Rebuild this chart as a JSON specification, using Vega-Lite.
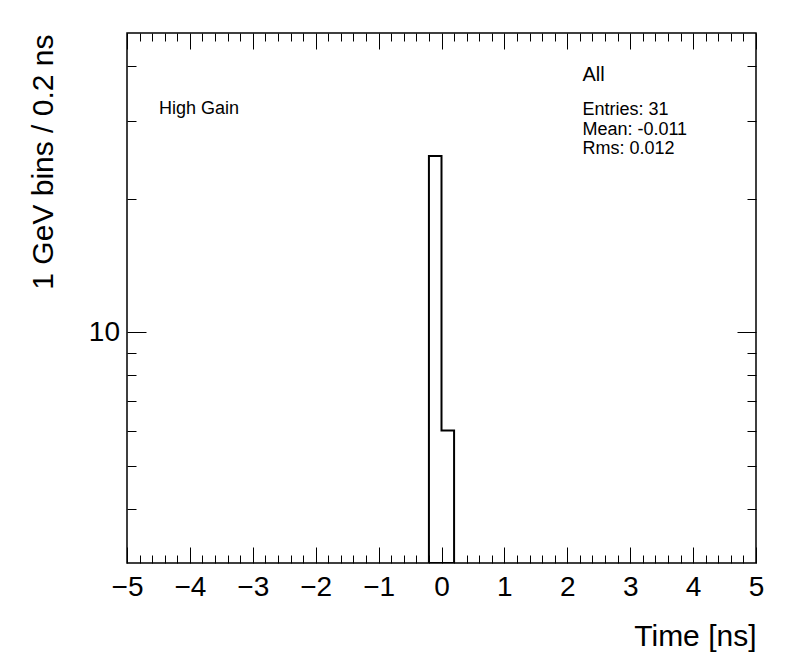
{
  "$schema": "https://vega.github.io/schema/vega-lite/v6.json",
  "width": 629,
  "height": 530,
  "autosize": {"type": "none"},
  "padding": {"left": 127, "top": 33, "right": 40, "bottom": 109},
  "background": "white",
  "config": {
    "view": {"stroke": "black", "strokeWidth": 1.5},
    "font": "Liberation Sans",
    "axis": {
      "grid": false,
      "domain": false,
      "tickColor": "black",
      "tickWidth": 1,
      "labelColor": "black",
      "titleColor": "black",
      "labelFont": "Liberation Sans",
      "titleFont": "Liberation Sans",
      "labelFontSize": 28,
      "titleFontSize": 30,
      "titleFontWeight": "normal",
      "labelFlush": false,
      "labelOverlap": false,
      "labelBound": false
    }
  },
  "resolve": {
    "scale": {"x": "shared", "y": "shared"},
    "axis": {"x": "independent", "y": "independent"}
  },
  "layer": [
    {
      "data": {"values": [
        {"bin_low": -0.2, "bin_high": 0, "entries": 25},
        {"bin_low": 0, "bin_high": 0.2, "entries": 6}
      ]},
      "transform": [{"fold": ["bin_low", "bin_high"], "as": ["edge", "time"]}],
      "mark": {"type": "area", "fill": "white", "fillOpacity": 0, "stroke": "black", "strokeWidth": 2, "strokeJoin": "miter", "clip": true},
      "encoding": {
        "x": {
          "field": "time", "type": "quantitative",
          "scale": {"domain": [-5, 5], "nice": false, "zero": false},
          "axis": {
            "orient": "bottom",
            "values": [-5, -4, -3, -2, -1, 0, 1, 2, 3, 4, 5],
            "format": "d",
            "tickSize": -16,
            "labelPadding": 26,
            "title": "Time [ns]",
            "titleAnchor": "end",
            "titleAlign": "right",
            "titleBaseline": "alphabetic",
            "titleX": 629,
            "titleY": 82
          }
        },
        "y": {
          "field": "entries", "type": "quantitative", "stack": null,
          "scale": {"type": "log", "domain": [3.015, 47.4], "nice": false},
          "axis": {
            "orient": "left",
            "values": [10],
            "format": "d",
            "tickSize": -19,
            "labelPadding": 26.5,
            "title": "1 GeV bins / 0.2 ns",
            "titleAngle": 270,
            "titleAlign": "right",
            "titleBaseline": "alphabetic",
            "titleX": -75,
            "titleY": 1
          }
        }
      }
    },
    {
      "data": {"values": [{"label": "High Gain"}]},
      "mark": {"type": "text", "align": "left", "baseline": "alphabetic", "fontSize": 18, "font": "Liberation Sans", "color": "black"},
      "encoding": {
        "text": {"field": "label"},
        "x": {
          "datum": -4.49, "type": "quantitative",
          "scale": {"domain": [-5, 5], "nice": false, "zero": false},
          "axis": {
            "orient": "bottom",
            "values": [-4.8, -4.6, -4.4, -4.2, -3.8, -3.6, -3.4, -3.2, -2.8, -2.6, -2.4, -2.2, -1.8, -1.6, -1.4, -1.2, -0.8, -0.6, -0.4, -0.2, 0.2, 0.4, 0.6, 0.8, 1.2, 1.4, 1.6, 1.8, 2.2, 2.4, 2.6, 2.8, 3.2, 3.4, 3.6, 3.8, 4.2, 4.4, 4.6, 4.8],
            "tickSize": -8,
            "labels": false,
            "title": null
          }
        },
        "y": {
          "datum": 31.1, "type": "quantitative",
          "scale": {"type": "log", "domain": [3.015, 47.4], "nice": false},
          "axis": {
            "orient": "left",
            "values": [4, 5, 6, 7, 8, 9, 20, 30, 40],
            "tickSize": -9,
            "labels": false,
            "title": null
          }
        }
      }
    },
    {
      "data": {"values": [{"label": "All"}]},
      "mark": {"type": "text", "align": "left", "baseline": "alphabetic", "fontSize": 20, "font": "Liberation Sans", "color": "black"},
      "encoding": {
        "text": {"field": "label"},
        "x": {
          "datum": 2.24, "type": "quantitative",
          "scale": {"domain": [-5, 5], "nice": false, "zero": false},
          "axis": {
            "orient": "top",
            "values": [-5, -4, -3, -2, -1, 0, 1, 2, 3, 4, 5],
            "tickSize": -16,
            "labels": false,
            "title": null
          }
        },
        "y": {
          "datum": 37.0, "type": "quantitative",
          "scale": {"type": "log", "domain": [3.015, 47.4], "nice": false},
          "axis": {
            "orient": "right",
            "values": [10],
            "tickSize": -19,
            "labels": false,
            "title": null
          }
        }
      }
    },
    {
      "data": {"values": [{"label": "Entries: 31\nMean: -0.011\nRms: 0.012"}]},
      "mark": {"type": "text", "align": "left", "baseline": "alphabetic", "fontSize": 18, "font": "Liberation Sans", "color": "black", "lineBreak": "\n", "lineHeight": 19.5},
      "encoding": {
        "text": {"field": "label"},
        "x": {
          "datum": 2.24, "type": "quantitative",
          "scale": {"domain": [-5, 5], "nice": false, "zero": false},
          "axis": {
            "orient": "top",
            "values": [-4.8, -4.6, -4.4, -4.2, -3.8, -3.6, -3.4, -3.2, -2.8, -2.6, -2.4, -2.2, -1.8, -1.6, -1.4, -1.2, -0.8, -0.6, -0.4, -0.2, 0.2, 0.4, 0.6, 0.8, 1.2, 1.4, 1.6, 1.8, 2.2, 2.4, 2.6, 2.8, 3.2, 3.4, 3.6, 3.8, 4.2, 4.4, 4.6, 4.8],
            "tickSize": -8,
            "labels": false,
            "title": null
          }
        },
        "y": {
          "datum": 30.9, "type": "quantitative",
          "scale": {"type": "log", "domain": [3.015, 47.4], "nice": false},
          "axis": {
            "orient": "right",
            "values": [4, 5, 6, 7, 8, 9, 20, 30, 40],
            "tickSize": -9,
            "labels": false,
            "title": null
          }
        }
      }
    }
  ]
}
